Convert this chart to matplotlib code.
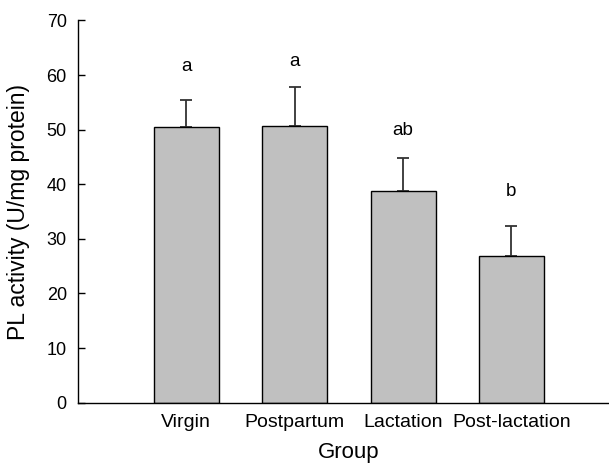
import numpy as np
import matplotlib
matplotlib.use('Agg')
import matplotlib.pyplot as plt

# values
groups = ['Virgin', 'Postpartum', 'Lactation', 'Post-lactation']
means = [50.5, 50.7, 38.8, 26.9]
sems = [5.0, 7.2, 6.1, 5.45]
letters = ['a', 'a', 'ab', 'b']
letter_y = [60.8, 61.6, 49.0, 37.8]

plt.rcParams['font.family'] = ['Liberation Sans', 'DejaVu Sans']

fig = plt.figure(figsize=(6.09, 4.65), dpi=100)
ax = fig.add_axes([0.128, 0.134, 0.872, 0.822])

x = np.arange(1, len(groups) + 1)
ax.bar(x, means, width=0.6, color='#c0c0c0', edgecolor='black', linewidth=1.0, zorder=2)
ax.errorbar(x, means, yerr=[np.zeros(len(sems)), sems], fmt='none',
            ecolor='#333333', elinewidth=1.3, capsize=4.6, capthick=1.3, zorder=1)

for xi, lab, ly in zip(x, letters, letter_y):
    ax.text(xi, ly, lab, ha='center', va='baseline', fontsize=13.5)

ax.set_xlim(0, 4.9)
ax.set_ylim(0, 70)
ax.set_yticks(np.arange(0, 71, 10))
ax.set_xticks(x)
ax.set_xticklabels(groups)

ax.spines['top'].set_visible(False)
ax.spines['right'].set_visible(False)
ax.spines['left'].set_linewidth(1.0)
ax.spines['bottom'].set_linewidth(1.0)

ax.tick_params(axis='y', direction='in', length=5, width=1.0, pad=8, labelsize=13)
ax.tick_params(axis='x', length=0, pad=8, labelsize=14)

ax.set_ylabel('PL activity (U/mg protein)', fontsize=16.5)
ax.yaxis.set_label_coords(-0.09, 0.5)
ax.set_xlabel('Group', fontsize=16)
ax.xaxis.set_label_coords(0.51, -0.103)

fig.savefig('out.png', dpi=100)
